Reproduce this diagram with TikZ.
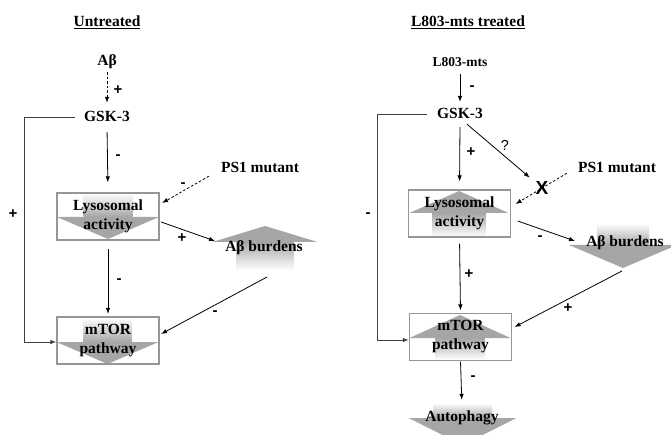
\documentclass[tikz,border=0pt]{standalone}
\usepackage{fontspec}
\setmainfont{Liberation Serif}
\newfontfamily\signfont{Liberation Sans}
\usetikzlibrary{arrows.meta}
\definecolor{arrowgray}{RGB}{166,166,166}
\definecolor{boxgray}{RGB}{150,150,150}
\begin{document}
\begin{tikzpicture}[x=1pt,y=-1pt,
  boldtext/.style={font=\fontsize{15.5}{19}\selectfont\bfseries},
  txt/.style={boldtext,inner sep=2pt,text height=11pt,text depth=3pt},
  box/.style={boldtext,align=center,draw=boxgray,line width=1.2pt,
    minimum width=102pt,minimum height=47pt},
  sign/.style={font=\signfont\bfseries\fontsize{15}{15}\selectfont,inner sep=0pt},
  link/.style={line width=0.8pt,-{Latex[length=6pt,width=4.5pt]}},
  hint/.style={link,dash pattern=on 2.5pt off 2pt},
  loopline/.style={link,draw=black!75,line width=1pt}]
\useasboundingbox (0,0) rectangle (671,435);

% grey level arrows: centre x / shaft end / head base / tip / half shaft / half head
\foreach \cx/\st/\hb/\tp/\sw/\hw in
  {108/193/217/239/24.5/51, 107.5/318/342/364/24.5/51,
   623/223/245/268/26/54, 462.5/403/418/445/29.5/54} {
  \shade[top color=white,bottom color=arrowgray] (\cx-\sw,\st) rectangle (\cx+\sw,\hb);
  \fill[arrowgray] (\cx-\hw,\hb) -- (\cx+\hw,\hb) -- (\cx,\tp) -- cycle;
}
\foreach \cx/\st/\hb/\tp/\sw/\hw in
  {265/270/242/226/28.5/52.5, 459/237/213/191/26.5/49.5,
   460/360/338/315/25/50.5} {
  \shade[top color=arrowgray,bottom color=white] (\cx-\sw,\hb) rectangle (\cx+\sw,\st);
  \fill[arrowgray] (\cx-\hw,\hb) -- (\cx+\hw,\hb) -- (\cx,\tp) -- cycle;
}

% untreated
\node[txt] (untreated) at (107,23) {\underline{Untreated}};
\node[txt] (abL) at (107,62) {Aβ};
\node[txt] (gskL) at (107,118) {GSK-3};
\node[box] (lysoL) at (108,216.5) {Lysosomal\\activity};
\node[box] (mtorL) at (108,340.5) {mTOR\\pathway};
\node[txt] (psL) at (260,169) {PS1 mutant};
\node[txt] (abbL) at (264,248) {Aβ burdens};
\coordinate (turnL) at (24,118);

\draw[hint,shorten <=1pt,shorten >=6pt] (abL.south) -- (gskL.north);
\draw[link,shorten <=5pt,shorten >=10pt] (gskL.south) -- (lysoL.north);
\draw[loopline] ([xshift=-7pt]gskL.west) -- (turnL) |- ([yshift=-1.5pt]mtorL.west);
\draw[hint] ([shift={(-10,-2)}]psL.south west) -- ([shift={(2.5,-13.5)}]lysoL.east);
\draw[link] ([shift={(1.5,5.5)}]lysoL.east) -- ([shift={(-8,-7)}]abbL.west);
\draw[link,shorten <=8.5pt,shorten >=2.5pt] (lysoL.south) -- (mtorL.north);
\draw[link] ([shift={(3,29)}]abbL.center) -- ([shift={(1.5,-6.5)}]mtorL.east);

% L803-mts treated
\node[txt] (treated) at (468,23) {\underline{L803-mts treated}};
\node[txt,font=\fontsize{13.5}{16}\selectfont\bfseries] (l803) at (460,63) {L803-mts};
\node[txt] (gskR) at (460,115) {GSK-3};
\node[box] (lysoR) at (459.5,213.5) {Lysosomal\\activity};
\node[box] (mtorR) at (460.5,337) {mTOR\\pathway};
\node[txt] (psR) at (617,169) {PS1 mutant};
\node[txt] (abbR) at (625,243) {Aβ burdens};
\node[txt] (autoph) at (462,417) {Autophagy};
\coordinate (turnR) at (377,115);

\draw[link,shorten <=2pt,shorten >=4pt] (l803.south) -- (gskR.north);
\draw[link,shorten <=3pt,shorten >=8pt] (gskR.south) -- (lysoR.north);
\draw[loopline] ([xshift=-8pt]gskR.west) -- (turnR) |- ([yshift=-3pt]mtorR.west);
\draw[hint] ([shift={(-9,-5)}]psR.south west) -- ([shift={(4.5,-9.5)}]lysoR.east);
\node[sign,font=\signfont\bfseries\fontsize{19}{19}\selectfont] (cross) at (542,188) {X};
\draw[link,shorten >=16pt] ([xshift=7pt]gskR.south) -- (cross.center);
\draw[link] ([shift={(6.5,7.5)}]lysoR.east) -- ([shift={(-9,-2)}]abbR.west);
\draw[link,shorten <=6pt,shorten >=2.5pt] (lysoR.south) -- (mtorR.north);
\draw[link] ([shift={(-3,28)}]abbR.center) -- ([shift={(2.5,-10)}]mtorR.east);
\draw[link,shorten <=0.5pt,shorten >=8pt] (mtorR.south) -- (autoph.north);

% signs on the links
\foreach \p/\s [count=\i] in
  {(118,90)/+, (118,157)/-, (13,214)/+, (183,185)/-, (182,238)/+,
   (119,281)/-, (215,313)/-, (472,88)/-, (471,152)/+, (368,215)/-,
   (540,238)/-, (469,274)/+, (568,308)/+, (473,378)/-} {
  \node[sign] (sgn\i) at \p {\s};
}
\node[sign,font=\signfont\fontsize{14.5}{14.5}\selectfont] (query) at (505,145) {?};
\end{tikzpicture}
\end{document}
